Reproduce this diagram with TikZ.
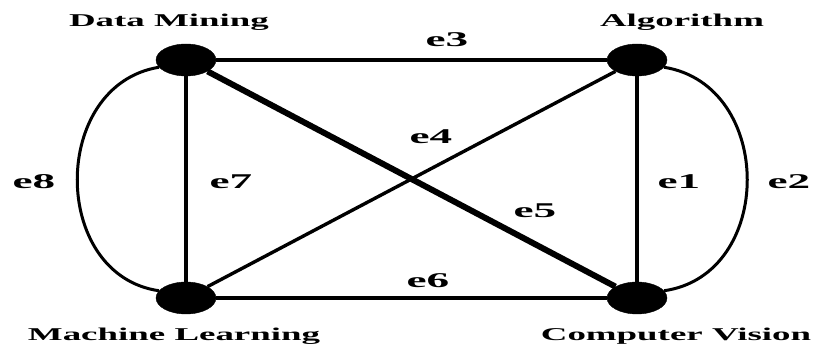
\documentclass[tikz,border=0pt]{standalone}
\usepackage{fontspec}
\setmainfont{Liberation Serif}
\usetikzlibrary{shapes.geometric}
\tikzset{
  vtx/.style={ellipse, fill=black, draw=black, minimum width=60pt, minimum height=32pt, inner sep=0pt},
  vlab/.style={font=\fontsize{18}{20}\selectfont\bfseries, inner sep=0pt},
  elab/.style={font=\fontsize{21}{24}\selectfont\bfseries, inner sep=0pt},
  edge/.style={line width=3.4pt, black},
  thickedge/.style={line width=6pt, black},
}
\newcommand{\wide}[1]{\scalebox{2.05}[1]{#1}}
\newcommand{\ewide}[1]{\scalebox{2.15}[1]{#1}}
\begin{document}
\begin{tikzpicture}[x=1pt,y=-1pt]
\useasboundingbox (0,0) rectangle (815,352);
\node[vtx] (dm) at (186,60) {};
\node[vtx] (alg) at (637,60) {};
\node[vtx] (ml) at (186,298) {};
\node[vtx] (cv) at (637,298) {};
% edges
\draw[edge] (dm) -- (alg);
\draw[edge] (dm) -- (ml);
\draw[edge] (alg) -- (cv);
\draw[edge] (ml) -- (cv);
\draw[edge] (ml) -- (alg);
\draw[thickedge] (dm) -- (cv);
\draw[edge, line width=3pt] (dm.195) .. controls (50,85) and (50,275) .. (ml.165);
\draw[edge, line width=3pt] (alg.-15) .. controls (775,85) and (775,275) .. (cv.15);
% vertex labels
\node[vlab] (tdm) at (169,22) {\wide{Data Mining}};
\node[vlab] (talg) at (682,22) {\wide{Algorithm}};
\node[vlab] (tml) at (174,336) {\wide{Machine Learning}};
\node[vlab] (tcv) at (676,336) {\wide{Computer Vision}};
% edge labels
\node[elab] (l3) at (447,40) {\ewide{e3}};
\node[elab] (l4) at (431,137) {\ewide{e4}};
\node[elab] (l8) at (34,182) {\ewide{e8}};
\node[elab] (l7) at (231,182) {\ewide{e7}};
\node[elab] (l1) at (679,182) {\ewide{e1}};
\node[elab] (l2) at (789,182) {\ewide{e2}};
\node[elab] (l5) at (535,211) {\ewide{e5}};
\node[elab] (l6) at (428,281) {\ewide{e6}};
\end{tikzpicture}
\end{document}
